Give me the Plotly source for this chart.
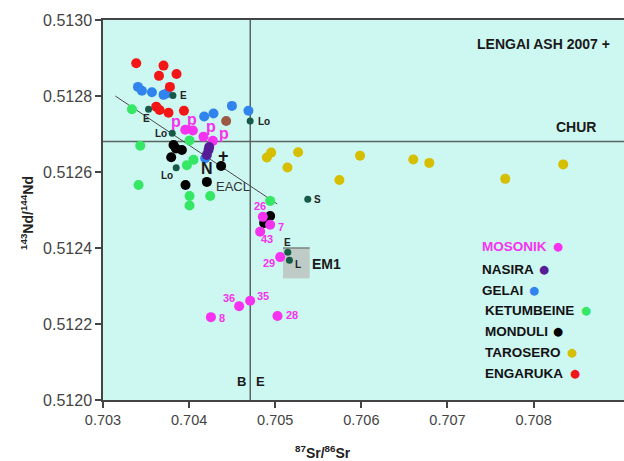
import plotly.graph_objects as go

# ---------------- data ----------------
eng_x = [0.703386, 0.703703, 0.703650, 0.703854, 0.703777, 0.703618, 0.703657, 0.703761, 0.703940]
eng_y = [0.512886, 0.512880, 0.512853, 0.512858, 0.512824, 0.512772, 0.512763, 0.512756, 0.512761]

gel_x = [0.703406, 0.703452, 0.703568, 0.703703, 0.703742, 0.704175, 0.704283, 0.704497, 0.704689, 0.704187]
gel_y = [0.512824, 0.512814, 0.512810, 0.512803, 0.512807, 0.512746, 0.512754, 0.512774, 0.512761, 0.512636]

brown_x = [0.704430]
brown_y = [0.512734]

ket_x = [0.703336, 0.703433, 0.704005, 0.704051, 0.703974, 0.703413, 0.704005, 0.704005, 0.704245, 0.704941]
ket_y = [0.512765, 0.512669, 0.512683, 0.512632, 0.512618, 0.512566, 0.512537, 0.512512, 0.512537, 0.512524]

mon_x = [0.703819, 0.703847, 0.703916, 0.703792, 0.703958, 0.704206, 0.704372, 0.704941, 0.704871]
mon_y = [0.512671, 0.512662, 0.512658, 0.512639, 0.512566, 0.512574, 0.512616, 0.512484, 0.512466]

nas_x = [0.704233, 0.704225, 0.704206]
nas_y = [0.512666, 0.512658, 0.512645]

mos_x = [0.703955, 0.704044, 0.704167, 0.704276, 0.704856, 0.704941, 0.704825, 0.705057, 0.704709, 0.704581, 0.704253, 0.705026]
mos_y = [0.512711, 0.512709, 0.512693, 0.512682, 0.512482, 0.512461, 0.512443, 0.512376, 0.512261, 0.512247, 0.512218, 0.512221]
mos_lab = ["p", "p", "p", "p", "26", "7", "43", "29", "35", "36", "8", "28"]

tar_x = [0.704903, 0.704953, 0.705266, 0.705142, 0.705745, 0.705985, 0.706603, 0.706789, 0.707671, 0.708344]
tar_y = [0.512638, 0.512651, 0.512652, 0.512612, 0.512579, 0.512643, 0.512633, 0.512624, 0.512582, 0.512620]

dk_x = [0.703812, 0.703529, 0.703804, 0.704709, 0.703850, 0.705378, 0.705146, 0.705165]
dk_y = [0.512801, 0.512765, 0.512702, 0.512734, 0.512611, 0.512528, 0.512389, 0.512368]
dk_lab = ["E", "E", "Lo", "Lo", "Lo", "S", "E", "L"]

eacl_x = [0.703143, 0.705022]
eacl_y = [0.512800, 0.512516]

be_x = 0.70471      # B|E vertical line
chur_y = 0.51268    # CHUR
em1_x = [0.70509, 0.70540]
em1_y = [0.51232, 0.51240]

x_ticks = [0.703, 0.704, 0.705, 0.706, 0.707, 0.708]
y_ticks = [0.5120, 0.5122, 0.5124, 0.5126, 0.5128, 0.5130]

legend_names = ["MOSONIK", "NASIRA", "GELAI", "KETUMBEINE", "MONDULI", "TAROSERO", "ENGARUKA"]

# ---------------- styles ----------------
C_ENG = "#f21616"
C_GEL = "#3184ee"
C_KET = "#34e865"
C_MON = "#000000"
C_NAS = "#561c96"
C_MOS = "#f432f0"
C_TAR = "#d6bf00"
C_DK = "#175a48"
C_BR = "#9c5a45"
BG = "#cdf7f1"

W, H = 624, 461
L, T, B, R = 103, 20, 61, 0
XR = [0.703, 0.70905]
YR = [0.5120, 0.5130]


def px2x(px):
    return XR[0] + (px - L) / (W - L - R) * (XR[1] - XR[0])


def py2y(py):
    return YR[1] - (py - T) / (H - T - B) * (YR[1] - YR[0])


fig = go.Figure()

# EM1 box
fig.add_shape(type="rect", x0=em1_x[0], x1=em1_x[1], y0=em1_y[0], y1=em1_y[1],
              fillcolor="#bfcbc7", line=dict(width=0), layer="below")
fig.add_shape(type="line", x0=em1_x[0], x1=em1_x[1], y0=em1_y[1], y1=em1_y[1],
              line=dict(color="#7a8480", width=1.5), layer="below")
# reference lines
fig.add_shape(type="line", x0=be_x, x1=be_x, y0=YR[0], y1=YR[1],
              line=dict(color="#5a6462", width=1.5), layer="below")
fig.add_shape(type="line", x0=XR[0], x1=XR[1], y0=chur_y, y1=chur_y,
              line=dict(color="#5a6462", width=1.5), layer="below")

fig.add_trace(go.Scatter(x=eacl_x, y=eacl_y, mode="lines",
                         line=dict(color="#4a4a4a", width=1), hoverinfo="skip"))


def pts(x, y, c, s=10):
    fig.add_trace(go.Scatter(x=x, y=y, mode="markers",
                             marker=dict(color=c, size=s, line=dict(width=0))))


pts(tar_x, tar_y, C_TAR)
pts(ket_x, ket_y, C_KET)
pts(gel_x, gel_y, C_GEL)
pts(eng_x, eng_y, C_ENG)
pts(brown_x, brown_y, C_BR)
pts(mon_x, mon_y, C_MON)
pts(mos_x, mos_y, C_MOS)
pts(nas_x, nas_y, C_NAS)
pts(dk_x, dk_y, C_DK, 7)

ann = []
FONT = "Liberation Sans, Arial, sans-serif"

# Mosonik labels (pixel offsets)
mos_off = [(-9, -8, 16), (-1, -11, 16), (7, -10, 16), (11, -7, 16),
           (-3, -11, 11), (11, 2, 11), (7, 7, 11), (-11, 6, 11),
           (13, -5, 11), (-10, -8, 11), (11, 1, 11), (15, -1, 11)]
for xv, yv, t, (dx, dy, fs) in zip(mos_x, mos_y, mos_lab, mos_off):
    ann.append(dict(x=xv, y=yv, text="<b>%s</b>" % t, showarrow=False, xshift=dx, yshift=-dy,
                    xanchor="center", yanchor="middle",
                    font=dict(color=C_MOS, size=fs, family=FONT)))

dk_off = [(11, 0), (-2, 9), (-11, 0), (14, 0), (-9, 8), (10, 0), (0, -10), (9, 4)]
for xv, yv, t, (dx, dy) in zip(dk_x, dk_y, dk_lab, dk_off):
    ann.append(dict(x=xv, y=yv, text="<b>%s</b>" % t, showarrow=False, xshift=dx, yshift=-dy,
                    xanchor="center", yanchor="middle",
                    font=dict(color="#222", size=10, family=FONT)))


def txt(px, py, t, size=13, color="#1a1a1a", xanchor="center", bold=True, family=FONT):
    ann.append(dict(x=px2x(px), y=py2y(py), text=("<b>%s</b>" % t) if bold else t,
                    showarrow=False, xanchor=xanchor, yanchor="middle",
                    font=dict(size=size, color=color, family=family)))


txt(612, 44, "LENGAI ASH 2007 +", 14, xanchor="right")
txt(576, 127, "CHUR", 14)
txt(223, 156, "+", 18)
txt(206.5, 168, "N", 16)
txt(233, 186, "EACL", 13, color="#333", bold=False)
txt(241, 381, "B", 13)
txt(260, 381, "E", 13)
txt(326, 264, "EM1", 14)

leg_cols = [C_MOS, C_NAS, C_GEL, C_KET, C_MON, C_TAR, C_ENG]
leg_y = [246, 269, 290, 310, 331, 352, 373]
leg_dot_x = [558, 544, 534, 586, 558, 572, 575]
for i, name in enumerate(legend_names):
    tc = C_MOS if i == 0 else "#111"
    txt(480 + (3 if i >= 3 else 0), leg_y[i], name, 13.5, color=tc, xanchor="left")
    txt(leg_dot_x[i], leg_y[i], "●", 11.5, color=leg_cols[i], bold=False, family="DejaVu Sans")

# axis titles
ann.append(dict(xref="paper", yref="paper", x=(27 - L) / (W - L - R), y=(H - B - 213) / (H - T - B),
                text="<b><sup>143</sup>Nd/<sup>144</sup>Nd</b>", textangle=-90, showarrow=False,
                xanchor="center", yanchor="middle",
                font=dict(size=14, color="#222", family=FONT)))
ann.append(dict(xref="paper", yref="paper", x=(323 - L) / (W - L - R), y=-(452 - (H - B)) / (H - T - B),
                text="<b><sup>87</sup>Sr/<sup>86</sup>Sr</b>", showarrow=False,
                xanchor="center", yanchor="middle",
                font=dict(size=14, color="#222", family=FONT)))

fig.update_layout(
    width=W, height=H, margin=dict(l=L, r=R, t=T, b=B),
    paper_bgcolor="white", plot_bgcolor=BG, showlegend=False,
    annotations=ann,
    xaxis=dict(range=XR, tickvals=x_ticks, ticktext=["%.3f" % v for v in x_ticks],
               showgrid=False, zeroline=False, ticks="outside", ticklen=6, tickwidth=1.5,
               tickcolor="#444", showline=True, linecolor="#444", linewidth=1.5, mirror=True,
               tickfont=dict(size=14.5, color="#444", family=FONT)),
    yaxis=dict(range=YR, tickvals=y_ticks, ticktext=["%.4f" % v for v in y_ticks],
               showgrid=False, zeroline=False, ticks="outside", ticklen=6, tickwidth=1.5,
               tickcolor="#444", showline=True, linecolor="#444", linewidth=1.5,
               tickfont=dict(size=16, color="#444", family=FONT)),
)

fig.write_html("out.html")
